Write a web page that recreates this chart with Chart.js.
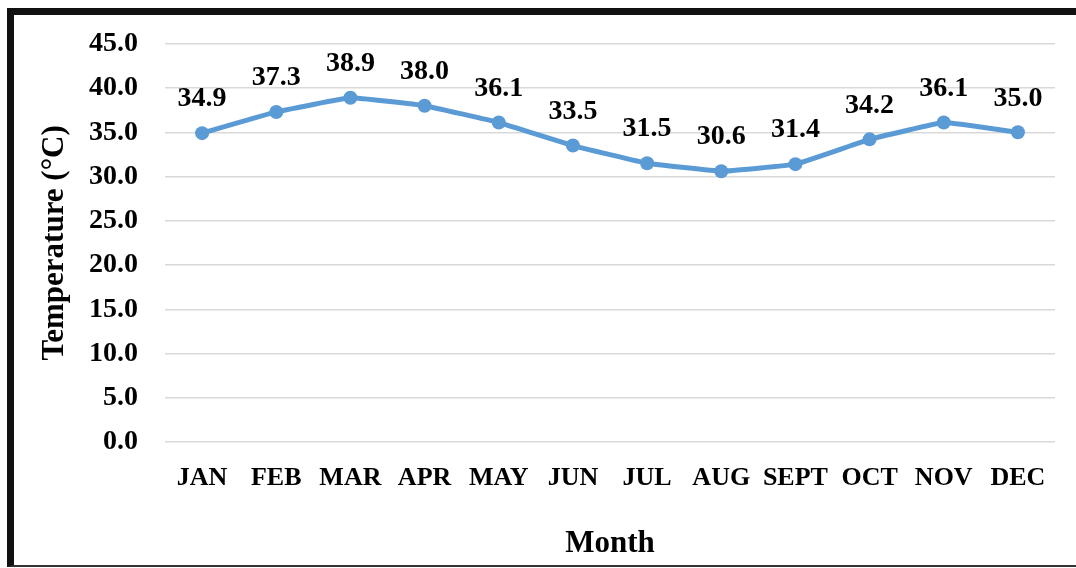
<!DOCTYPE html>
<html lang="en">
<head>
    <meta charset="UTF-8">
    <title>Monthly Temperature</title>
    <style>
        html, body {
            margin: 0;
            padding: 0;
            background: #fff;
            overflow: hidden;
        }
        .wrap {
            position: relative;
            width: 1076px;
            height: 568px;
        }
        .frame {
            position: absolute;
            left: 7px;
            top: 8px;
            width: 1100px;
            height: 550px;
            border-top: 7px solid #111;
            border-left: 7px solid #111;
            border-bottom: 2px solid #333;
            pointer-events: none;
        }
        canvas {
            position: absolute;
            left: 0;
            top: 0;
        }
    </style>
    <script src="https://cdn.jsdelivr.net/npm/chart.js"></script>
</head>
<body>
    <div class="wrap">
        <canvas id="tempChart" width="1076" height="568"></canvas>
        <div class="frame"></div>
    </div>

    <script>
        // data
        const months = ['JAN', 'FEB', 'MAR', 'APR', 'MAY', 'JUN', 'JUL', 'AUG', 'SEPT', 'OCT', 'NOV', 'DEC'];
        const temps = [34.9, 37.3, 38.9, 38.0, 36.1, 33.5, 31.5, 30.6, 31.4, 34.2, 36.1, 35.0];
        const yMin = 0;
        const yMax = 45;
        const yStep = 5;

        const serif = '"Liberation Serif", "Times New Roman", serif';

        // simple value labels above each point
        const valueLabels = {
            id: 'valueLabels',
            afterDatasetsDraw(chart) {
                const ctx = chart.ctx;
                const meta = chart.getDatasetMeta(0);
                ctx.save();
                ctx.font = 'bold 28px ' + serif;
                ctx.fillStyle = '#000';
                ctx.textAlign = 'center';
                ctx.textBaseline = 'middle';
                meta.data.forEach(function (pt, i) {
                    ctx.fillText(temps[i].toFixed(1), pt.x, pt.y - 34);
                });
                ctx.restore();
            }
        };

        const ctx = document.getElementById('tempChart').getContext('2d');
        new Chart(ctx, {
            type: 'line',
            data: {
                labels: months,
                datasets: [{
                    label: 'Temperature',
                    data: temps,
                    borderColor: '#5b9bd5',
                    backgroundColor: '#5b9bd5',
                    borderWidth: 5,
                    pointRadius: 7,
                    pointBorderWidth: 0,
                    tension: 0.08,
                    fill: false
                }]
            },
            options: {
                responsive: false,
                animation: false,
                layout: {
                    padding: { left: 14, top: 41, right: 21, bottom: 0 }
                },
                plugins: {
                    legend: { display: false },
                    tooltip: { enabled: false }
                },
                scales: {
                    x: {
                        offset: true,
                        grid: { display: false, drawTicks: false },
                        border: { display: false },
                        ticks: {
                            color: '#000',
                            padding: 21,
                            maxRotation: 0,
                            autoSkip: false,
                            font: { family: serif, size: 26, weight: 'bold' }
                        },
                        title: {
                            display: true,
                            text: 'Month',
                            color: '#000',
                            padding: { top: 0, bottom: 5 },
                            font: { family: serif, size: 31, weight: 'bold' }
                        },
                        afterFit(scale) { scale.height = 126; }
                    },
                    y: {
                        min: yMin,
                        max: yMax,
                        grid: { color: '#d9d9d9', lineWidth: 1.5, drawTicks: false },
                        border: { display: false },
                        ticks: {
                            stepSize: yStep,
                            color: '#000',
                            padding: 27,
                            font: { family: serif, size: 28, weight: 'bold' },
                            callback: function (v) { return Number(v).toFixed(1); }
                        },
                        title: {
                            display: true,
                            text: 'Temperature (°C)',
                            color: '#000',
                            padding: { top: 22, bottom: 0 },
                            font: { family: serif, size: 31, weight: 'bold' }
                        },
                        afterFit(scale) { scale.width = 151; }
                    }
                }
            },
            plugins: [valueLabels]
        });
    </script>
</body>
</html>
